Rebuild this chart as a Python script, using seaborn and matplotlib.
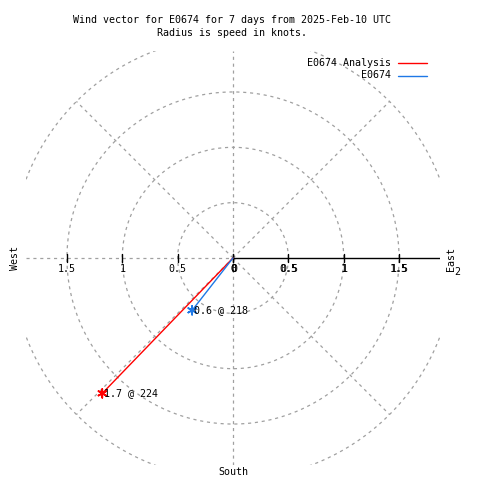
import numpy as np
import pandas as pd
import seaborn as sns
import matplotlib
matplotlib.use("Agg")
from matplotlib import pyplot as plt

# data
series = ["E0674 Analysis", "E0674"]
speeds = [1.7, 0.6]          # knots
directions = [224, 218]      # degrees (compass bearing)
colors = ["#ff0000", "#1e78e6"]
rings = [0.5, 1.0, 1.5, 2.0]
tick_vals = [0.5, 1.0, 1.5]
lim = 1.87

sns.set_theme(style="white")
plt.rcParams["font.family"] = ["DejaVu Sans Mono", "DejaVu Sans"]
plt.rcParams["text.color"] = "black"
fs = 7.2

# vectors: origin -> tip, bearing convention (x = r sin, y = r cos)
rows = []
for name, s, d in zip(series, speeds, directions):
    th = np.deg2rad(d)
    rows.append({"series": name, "x": 0.0, "y": 0.0, "k": 0})
    rows.append({"series": name, "x": s * np.sin(th), "y": s * np.cos(th), "k": 1})
df = pd.DataFrame(rows)

fig = plt.figure(figsize=(4.8, 4.8), dpi=100)
ax = fig.add_axes([26 / 480, 15 / 480, 414 / 480, 414 / 480])
ax.set_xlim(-lim, lim)
ax.set_ylim(-lim, lim)
ax.set_axis_off()

grid_kw = dict(color="#a0a0a0", lw=0.9, ls=(0, (2.5, 3)), zorder=1)

# range rings
t = np.linspace(0, 2 * np.pi, 400)
for r in rings:
    ax.plot(r * np.cos(t), r * np.sin(t), **grid_kw)

# radial grid lines
for a in [45, 135, 225, 315]:
    ra = np.deg2rad(a)
    ax.plot([0, rings[-1] * np.cos(ra)], [0, rings[-1] * np.sin(ra)], **grid_kw)
ax.plot([0, 0], [-lim, lim], **grid_kw)
ax.plot([-lim, 0], [0, 0], **grid_kw)
ax.plot([0, lim], [0, 0], color="black", lw=1.0, zorder=2)

# tick marks and labels on the horizontal axis
for v in [0.0] + tick_vals:
    for sgn in (-1, 1):
        ax.plot([sgn * v, sgn * v], [-0.04, 0.04], color="black", lw=1.0, zorder=2)
        lbl = f"{v:g}"
        ax.text(sgn * v, -0.1, lbl, ha="center", va="center", fontsize=fs)
        if sgn > 0:
            ax.text(sgn * v + 0.01, -0.1, lbl, ha="center", va="center", fontsize=fs)

sns.lineplot(data=df, x="x", y="y", hue="series", units="series", estimator=None,
             sort=False, palette=dict(zip(series, colors)), lw=1.0, ax=ax,
             legend=False, zorder=3)

tips = df[df["k"] == 1]
sns.scatterplot(data=tips, x="x", y="y", hue="series", palette=dict(zip(series, colors)),
                marker=(6, 2, 0), s=40, linewidth=1.2, ax=ax, legend=False, zorder=4)
for (_, row), s, d in zip(tips.iterrows(), speeds, directions):
    ax.text(row["x"] + 0.02, row["y"], f"{s:g} @ {d}", ha="left", va="center",
            fontsize=fs, zorder=5)

# legend drawn gnuplot style
for i, (name, c) in enumerate(zip(series, colors)):
    yy = 1 - (63 + 12.5 * i) / 480
    fig.text(391 / 480, yy, name, ha="right", va="center", fontsize=fs)
    fig.add_artist(plt.Line2D([398 / 480, 427 / 480], [yy, yy], color=c, lw=1.0))

fig.text(232 / 480, 1 - 20 / 480, "Wind vector for E0674 for 7 days from 2025-Feb-10 UTC",
         ha="center", va="center", fontsize=fs)
fig.text(232 / 480, 1 - 33 / 480, "Radius is speed in knots.",
         ha="center", va="center", fontsize=fs)
fig.text(15 / 480, 1 - 258 / 480, "West", rotation=90, ha="center", va="center", fontsize=fs)
fig.text(451 / 480, 1 - 259 / 480, "East", rotation=90, ha="center", va="center", fontsize=fs)
fig.text(457 / 480, 1 - 272 / 480, "2", ha="center", va="center", fontsize=fs)
fig.text(233 / 480, 1 - 472 / 480, "South", ha="center", va="center", fontsize=fs)

fig.savefig("out.png", dpi=100, facecolor="white")
